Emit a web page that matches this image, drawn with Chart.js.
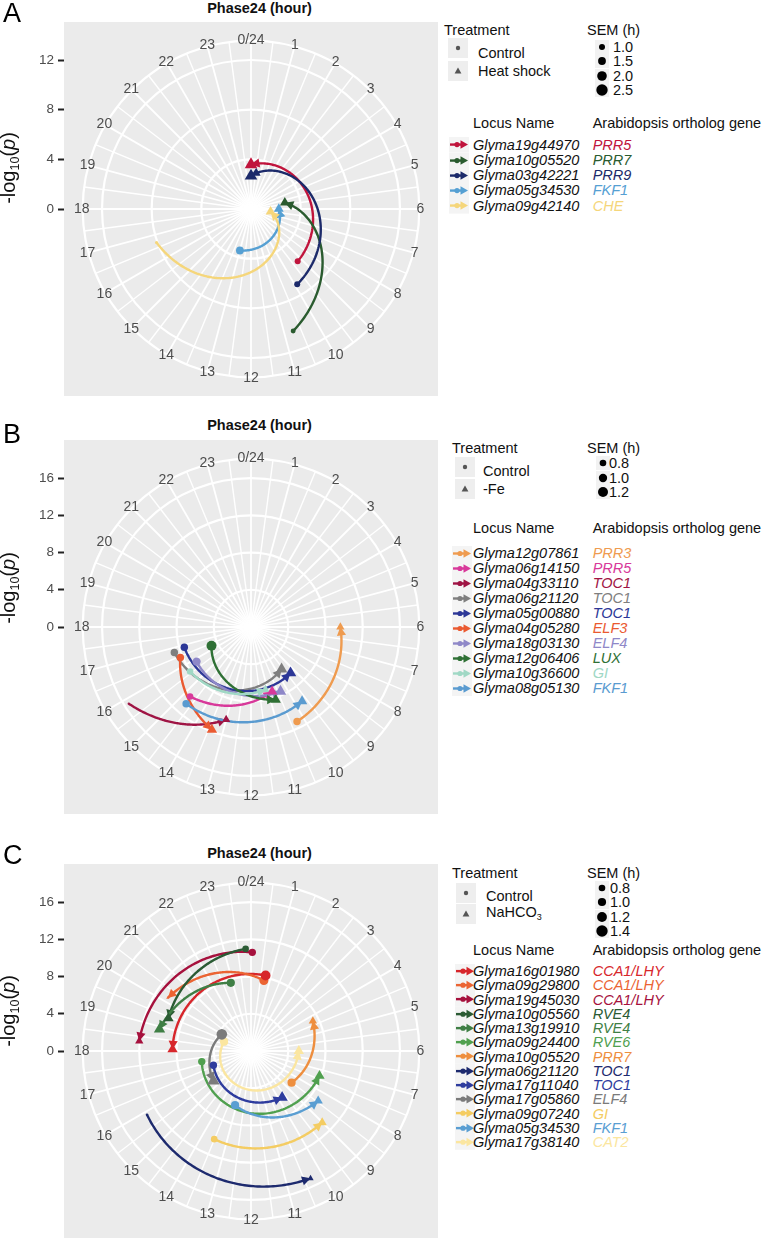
<!DOCTYPE html>
<html>
<head>
<meta charset="utf-8">
<script src="https://cdn.jsdelivr.net/npm/chart.js@4.4.1/dist/chart.umd.min.js"></script>
<style>
  body { margin:0; width:762px; height:1241px; position:relative; background:#fff; overflow:hidden;
         font-family:"Liberation Sans", Arial, Helvetica, sans-serif; color:#111; }
  .t { position:absolute; white-space:nowrap; line-height:1; transform:translateY(-50%); }
  canvas { position:absolute; left:0; }
</style>
</head>
<body>
<script>
const FONT = '"Liberation Sans", Arial, Helvetica, sans-serif';
const hourLabels = ['0/24','1','2','3','4','5','6','7','8','9','10','11',
                    '12','13','14','15','16','17','18','19','20','21','22','23'];

// Panel A - heat shock
const lociA = ['Glyma19g44970','Glyma10g05520','Glyma03g42221','Glyma05g34530','Glyma09g42140'];
const orthoA = ['PRR5','PRR7','PRR9','FKF1','CHE'];
const colorsA = ['#C0143C','#2A5B2F','#1C2A6A','#56A0D3','#F5D67B'];
const ctrlPhaseA = [9.22, 10.73, 9.9, 13.0, 16.7];
const ctrlLogpA  = [5.65, 10.4, 7.12, 3.46, 8.07];
const ctrlSemA   = [1.0, 0.7, 1.0, 1.5, 0.2];
const trtPhaseA  = [0.0, 5.3, 0.0, 6.0, 6.5];
const trtLogpA   = [3.58, 2.77, 2.67, 2.24, 1.59];
const trtSemA    = [2.1, 1.5, 2.1, 1.5, 1.5];
const rBreaksA = [4, 8, 12];
const semKeysA = [1.0, 1.5, 2.0, 2.5];

// Panel B - iron deficiency
const lociB = ['Glyma12g07861','Glyma06g14150','Glyma04g33110','Glyma06g21120','Glyma05g00880',
               'Glyma04g05280','Glyma18g03130','Glyma12g06406','Glyma10g36600','Glyma08g05130'];
const orthoB = ['PRR3','PRR5','TOC1','TOC1','TOC1','ELF3','ELF4','LUX','GI','FKF1'];
const colorsB = ['#EF9B4F','#D8399A','#9F1444','#7F7F7F','#2C3797',
                 '#EA5A31','#8F88C8','#2F7035','#A0D8C5','#5A9BD0'];
const ctrlPhaseB = [10.27, 14.75, 15.86, 16.77, 16.87, 16.44, 15.84, 16.3, 15.59, 14.68];
const ctrlLogpB  = [11.3, 9.93, 15.5, 8.68, 7.49, 8.27, 6.93, 4.7, 8.1, 10.8];
const ctrlSemB   = [0.9, 0.8, 0.3, 0.9, 0.9, 0.9, 1.0, 1.2, 0.8, 0.9];
const trtPhaseB  = [6.0, 10.79, 13.0, 9.6, 9.29, 13.39, 10.36, 10.75, 11.13, 9.7];
const trtLogpB   = [9.6, 7.28, 10.3, 5.59, 6.52, 11.8, 7.61, 8.24, 6.9, 9.69];
const trtSemB    = [0.8, 1.0, 0.8, 1.1, 1.1, 1.0, 1.1, 1.0, 0.8, 1.0];
const rBreaksB = [4, 8, 12, 16];
const semKeysB = [0.8, 1.0, 1.2];

// Panel C - bicarbonate
const lociC = ['Glyma16g01980','Glyma09g29800','Glyma19g45030','Glyma10g05560','Glyma13g19910',
               'Glyma09g24400','Glyma10g05520','Glyma06g21120','Glyma17g11040','Glyma17g05860',
               'Glyma09g07240','Glyma05g34530','Glyma17g38140'];
const orthoC = ['CCA1/LHY','CCA1/LHY','CCA1/LHY','RVE4','RVE4','RVE6','PRR7',
                'TOC1','TOC1','ELF4','GI','FKF1','CAT2'];
const colorsC = ['#D7262B','#EB6433','#A6113D','#2B5B34','#3F7F45','#50A04F','#EE8E3E',
                 '#1D2A6E','#2E3C9E','#7B7B7B','#F4CC62','#5A9ED2','#FBE6A0'];
const ctrlPhaseC = [24.73, 24.69, 24.05, 23.8, 22.9, 17.19, 8.53, 15.9, 16.61, 19.98, 13.51, 13.09, 19.27];
const ctrlLogpC  = [8.26, 7.7, 10.6, 10.98, 7.64, 5.41, 5.53, 13.1, 4.32, 3.61, 10.26, 6.07, 3.06];
const ctrlSemC   = [1.2, 1.1, 0.9, 0.8, 1.0, 0.9, 1.0, 0.3, 0.9, 1.3, 0.8, 1.0, 1.0];
const trtPhaseC  = [18.08, 20.17, 18.34, 19.44, 18.89, 7.33, 4.28, 10.33, 9.75, 15.43, 9.01, 8.44, 6.0];
const trtLogpC   = [8.43, 10.6, 12.05, 9.53, 10.1, 7.83, 7.38, 15.1, 6.02, 5.16, 10.84, 8.99, 5.14];
const trtSemC    = [1.0, 0.3, 0.8, 1.0, 1.1, 1.0, 0.8, 0.6, 1.1, 1.2, 0.9, 0.9, 1.0];
const rBreaksC = [4, 8, 12, 16];
const semKeysC = [0.8, 1.0, 1.2, 1.4];

const panels = [
  { letter:'A', top:22, treatment:'Heat shock', rMax:12.05, rBreaks:rBreaksA, semKeys:semKeysA, semPx:[3, 5.7],
    loci:lociA, ortho:orthoA, colors:colorsA, cPh:ctrlPhaseA, cR:ctrlLogpA, cS:ctrlSemA,
    tPh:trtPhaseA, tR:trtLogpA, tS:trtSemA,
    lay:{ title:8, letter:13, axis:168, trtX:444, headY:30, boxX:448, boxY:[48, 70.5], itemX:478, itemY:[52.7, 71],
          semCx:602, semLx:613, semY:[46.7, 61, 76, 90], locY:123, rowY:145, rowStep:15.15, keyX:449 } },
  { letter:'B', top:440, treatment:'-Fe', rMax:16.07, rBreaks:rBreaksB, semKeys:semKeysB, semPx:[3.3, 5],
    loci:lociB, ortho:orthoB, colors:colorsB, cPh:ctrlPhaseB, cR:ctrlLogpB, cS:ctrlSemB,
    tPh:trtPhaseB, tR:trtLogpB, tS:trtSemB,
    lay:{ title:425, letter:434, axis:588, trtX:452, headY:448, boxX:455, boxY:[467, 488.5], itemX:483, itemY:[471, 489],
          semCx:603, semLx:609, semY:[463, 478, 492], locY:528, rowY:553, rowStep:15, keyX:452 } },
  { letter:'C', top:864, treatment:'NaHCO<sub style="font-size:9px;vertical-align:-3px">3</sub>', rMax:16.07,
    rBreaks:rBreaksC, semKeys:semKeysC, semPx:[3.3, 5.7],
    loci:lociC, ortho:orthoC, colors:colorsC, cPh:ctrlPhaseC, cR:ctrlLogpC, cS:ctrlSemC,
    tPh:trtPhaseC, tR:trtLogpC, tS:trtSemC,
    lay:{ title:853, letter:855, axis:1011, trtX:452, headY:873, boxX:456, boxY:[893, 914], itemX:486, itemY:[896, 913],
          semCx:602, semLx:610, semY:[888, 902, 917, 931], locY:950, rowY:971, rowStep:14.25, keyX:455 } }
];

const SIDE = 374;   // square plot panel
const AXW = 64;     // room for the radial axis on the left

function semRadius(p, sem) {
  const s0 = p.semKeys[0], s1 = p.semKeys[p.semKeys.length - 1];
  const r = p.semPx[0] + (sem - s0) * (p.semPx[1] - p.semPx[0]) / (s1 - s0);
  return Math.max(1, r);
}
const toXY = (ph, r) => ({ x: r * Math.sin(ph / 24 * 2 * Math.PI), y: r * Math.cos(ph / 24 * 2 * Math.PI) });

function polarPlugin(p) {
  const rOuter = p.rMax / 0.8 * 0.9;
  return {
    id: 'polar' + p.letter,
    beforeDatasetsDraw(chart) {
      const { ctx, chartArea: a, scales: { x, y } } = chart;
      const cx = x.getPixelForValue(0), cy = y.getPixelForValue(0);
      const ppu = x.getPixelForValue(1) - cx;
      const ro = rOuter * ppu;
      ctx.save();
      ctx.fillStyle = '#EBEBEB';
      ctx.fillRect(a.left, a.top, a.width, a.height);
      // spokes every half hour
      ctx.strokeStyle = '#FFFFFF';
      for (let k = 0; k < 48; k++) {
        const ang = k / 48 * 2 * Math.PI;
        ctx.lineWidth = k % 2 ? 1.4 : 1.8;
        ctx.beginPath();
        ctx.moveTo(cx, cy);
        ctx.lineTo(cx + ro * Math.sin(ang), cy - ro * Math.cos(ang));
        ctx.stroke();
      }
      ctx.lineWidth = 2.2;
      p.rBreaks.concat([rOuter]).forEach(r => {
        ctx.beginPath();
        ctx.arc(cx, cy, r * ppu, 0, 2 * Math.PI);
        ctx.stroke();
      });
      // hour labels
      ctx.fillStyle = '#4D4D4D';
      ctx.font = '14px ' + FONT;
      ctx.textAlign = 'center';
      ctx.textBaseline = 'middle';
      hourLabels.forEach((t, h) => {
        const ang = h / 24 * 2 * Math.PI;
        ctx.fillText(t, cx + (ro + 1) * Math.sin(ang), cy - (ro + 1) * Math.cos(ang));
      });
      // control -> treatment paths, straight in (phase, r) space
      const pix = (ph, r) => {
        const q = toXY(ph, r);
        return [x.getPixelForValue(q.x), y.getPixelForValue(q.y)];
      };
      ctx.lineCap = 'butt';
      ctx.lineJoin = 'round';
      p.loci.forEach((_, i) => {
        const n = 90, pts = [];
        for (let k = 0; k <= n; k++) {
          const f = k / n;
          pts.push(pix(p.cPh[i] + (p.tPh[i] - p.cPh[i]) * f, p.cR[i] + (p.tR[i] - p.cR[i]) * f));
        }
        const tip = pts[n], back = pts[n - 4];
        let dx = tip[0] - back[0], dy = tip[1] - back[1];
        const len = Math.hypot(dx, dy) || 1;
        dx /= len; dy /= len;
        const L = 8.5, W = 4.6;
        ctx.strokeStyle = p.colors[i];
        ctx.fillStyle = p.colors[i];
        ctx.lineWidth = 2.4;
        ctx.beginPath();
        pts.forEach((q, k) => {
          if (k === n) { ctx.lineTo(tip[0] - dx * 4, tip[1] - dy * 4); return; }
          k ? ctx.lineTo(q[0], q[1]) : ctx.moveTo(q[0], q[1]);
        });
        ctx.stroke();
        ctx.beginPath();
        ctx.moveTo(tip[0], tip[1]);
        ctx.lineTo(tip[0] - dx * L - dy * W, tip[1] - dy * L + dx * W);
        ctx.lineTo(tip[0] - dx * L + dy * W, tip[1] - dy * L - dx * W);
        ctx.closePath();
        ctx.fill();
      });
      ctx.restore();
    }
  };
}

function makeChart(p) {
  const cv = document.createElement('canvas');
  cv.width = AXW + SIDE; cv.height = SIDE;
  cv.style.top = p.top + 'px';
  document.body.appendChild(cv);
  const R = p.rMax / 0.8;
  const yTicks = [0].concat(p.rBreaks);
  const datasets = p.loci.map((name, i) => ({
    label: name,
    data: [toXY(p.cPh[i], p.cR[i]), toXY(p.tPh[i], p.tR[i])],
    pointStyle: ['circle', 'triangle'],
    pointRadius: [semRadius(p, p.cS[i]), 1.45 * semRadius(p, p.tS[i])],
    backgroundColor: p.colors[i],
    borderWidth: 0
  }));
  new Chart(cv, {
    type: 'scatter',
    data: { datasets },
    options: {
      responsive: false, animation: false, events: [],
      layout: { padding: 0, autoPadding: false },
      plugins: { legend: { display: false }, tooltip: { enabled: false } },
      scales: {
        x: { type: 'linear', min: -R, max: R, display: false },
        y: {
          type: 'linear', min: -R, max: R, position: 'left',
          afterBuildTicks: s => { s.ticks = yTicks.map(v => ({ value: v })); },
          afterFit: s => { s.width = AXW; s.paddingTop = 0; s.paddingBottom = 0; },
          grid: { drawOnChartArea: false, drawTicks: true, tickLength: 6, tickColor: '#222', tickWidth: 2 },
          border: { display: false },
          ticks: { color: '#4D4D4D', padding: 4, font: { family: FONT, size: 13.5 } }
        }
      }
    },
    plugins: [polarPlugin(p)]
  });
}

function addText(html, x, y, style) {
  const d = document.createElement('div');
  d.className = 't';
  d.innerHTML = html;
  d.style.left = x + 'px';
  d.style.top = y + 'px';
  Object.assign(d.style, style || {});
  document.body.appendChild(d);
  return d;
}

function addSvg(svg, x, y, w, h) {
  const d = document.createElement('div');
  d.style.cssText = `position:absolute;left:${x}px;top:${y}px;width:${w}px;height:${h}px;`;
  d.innerHTML = `<svg width="${w}" height="${h}" viewBox="0 0 ${w} ${h}">${svg}</svg>`;
  document.body.appendChild(d);
}

function buildLegend(p) {
  const L = p.lay;
  addText('Phase24 (hour)', 259.5, L.title, { transform: 'translate(-50%,-50%)', fontWeight: 'bold', fontSize: '14.5px' });
  addText(p.letter, 3, L.letter, { fontSize: '27px', color: '#000' });
  addText('-log<sub style="font-size:12.5px;vertical-align:-4px">10</sub>(<i>p</i>)', 10, L.axis,
          { transform: 'translate(-50%,-50%) rotate(-90deg)', fontSize: '20px' });

  const fs = { fontSize: '14.5px' };
  addText('Treatment', L.trtX, L.headY, fs);
  addText('SEM (h)', 587, L.headY, fs);
  // treatment keys
  L.boxY.forEach((by, k) => {
    const shape = k === 0
      ? '<circle cx="10" cy="10" r="2.2" fill="#555"/>'
      : '<polygon points="10,6.6 13.4,12.4 6.6,12.4" fill="#555"/>';
    addSvg('<rect width="20" height="20" fill="#EEEEEE"/>' + shape, L.boxX, by - 10, 20, 20);
  });
  addText('Control', L.itemX, L.itemY[0], fs);
  addText(p.treatment, L.itemX, L.itemY[1], fs);
  // SEM size keys
  p.semKeys.forEach((s, k) => {
    const r = semRadius(p, s);
    addSvg(`<rect x="2" y="2" width="14" height="14" fill="#F2F2F2"/><circle cx="9" cy="9" r="${r}" fill="#000"/>`,
           L.semCx - 9, L.semY[k] - 9, 18, 18);
    addText(s.toFixed(1), L.semLx, L.semY[k], fs);
  });
  addText('Locus Name', 473, L.locY, fs);
  addText('Arabidopsis ortholog gene', 592.7, L.locY, fs);
  p.loci.forEach((name, i) => {
    const y = L.rowY + i * L.rowStep;
    const c = p.colors[i];
    addSvg(`<rect width="20" height="${L.rowStep + 0.5}" fill="#F4F4F4"/>` +
           `<line x1="1" y1="${L.rowStep / 2}" x2="13" y2="${L.rowStep / 2}" stroke="${c}" stroke-width="2.4"/>` +
           `<circle cx="8" cy="${L.rowStep / 2}" r="2.6" fill="${c}"/>` +
           `<polygon points="19,${L.rowStep / 2} 11.5,${L.rowStep / 2 - 4.3} 11.5,${L.rowStep / 2 + 4.3}" fill="${c}"/>`,
           L.keyX, y - L.rowStep / 2, 20, L.rowStep + 0.5);
    addText(name, 473, y, { fontSize: '14.5px', fontStyle: 'italic' });
    addText(p.ortho[i], 592.7, y, { fontSize: '14.5px', fontStyle: 'italic', color: c });
  });
}

panels.forEach(p => { makeChart(p); buildLegend(p); });
</script>
</body>
</html>
